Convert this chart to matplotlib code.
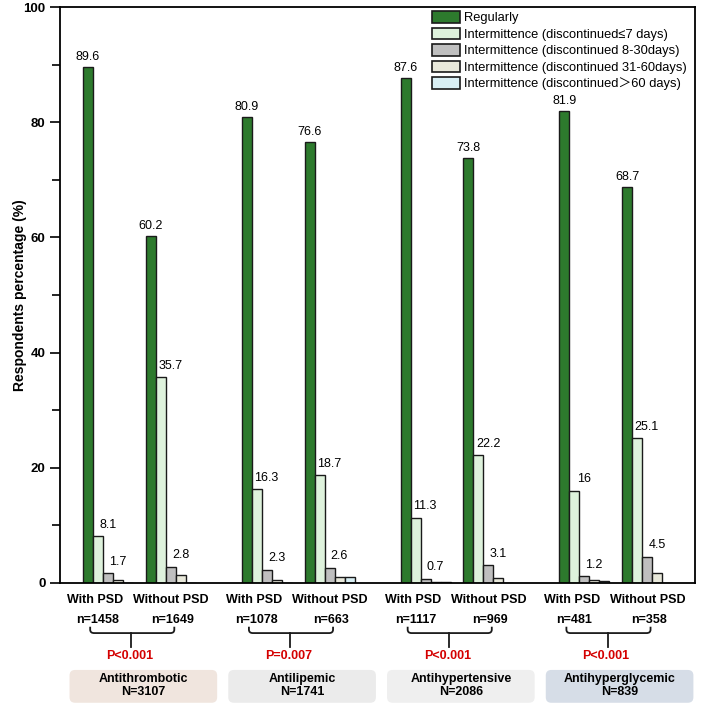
import numpy as np
import matplotlib.pyplot as plt
from matplotlib.path import Path
from matplotlib.patches import PathPatch, FancyBboxPatch

plt.rcParams['font.family'] = ['Liberation Sans', 'Noto Sans CJK SC', 'DejaVu Sans']

# drug classes and sample sizes
categories = ['Antithrombotic', 'Antilipemic', 'Antihypertensive', 'Antihyperglycemic']
totals = [3107, 1741, 2086, 839]
n_with = [1458, 1078, 1117, 481]
n_without = [1649, 663, 969, 358]
p_labels = ['P<0.001', 'P=0.007', 'P<0.001', 'P<0.001']
sub_labels = ['With PSD', 'Without PSD']

# percentages, order: (cat1 with, cat1 without, cat2 with, ...)
regularly = [89.6, 60.2, 80.9, 76.6, 87.6, 73.8, 81.9, 68.7]
disc_le7 = [8.1, 35.7, 16.3, 18.7, 11.3, 22.2, 16.0, 25.1]
disc_8_30 = [1.7, 2.8, 2.3, 2.6, 0.7, 3.1, 1.2, 4.5]
disc_31_60 = [0.6, 1.3, 0.5, 1.1, 0.2, 0.9, 0.6, 1.7]
disc_gt60 = [0.0, 0.0, 0.0, 1.0, 0.2, 0.0, 0.3, 0.0]

series = [regularly, disc_le7, disc_8_30, disc_31_60, disc_gt60]
series_names = ['Regularly',
                'Intermittence (discontinued\u22647 days)',
                'Intermittence (discontinued 8-30days)',
                'Intermittence (discontinued 31-60days)',
                'Intermittence (discontinued\uff1e60 days)']
colors = ['#2d7a2d', '#def2dc', '#bfbfbf', '#e8e8da', '#d9eff4']
box_colors = ['#f0e5de', '#ebebeb', '#efefef', '#d6dde7']

fig = plt.figure(figsize=(7.06, 7.08), dpi=100)
ax = fig.add_axes([0.085, 0.1766, 0.8994, 0.8135])

gx = np.arange(len(categories))
bw = 0.063
sub_left = np.ravel(np.column_stack([gx - 0.355, gx + 0.041]))

for k, (vals, col, name) in enumerate(zip(series, colors, series_names)):
    xs = sub_left + k * bw
    ax.bar(xs, vals, width=bw, align='edge', color=col, edgecolor='#1a1a1a',
           linewidth=1.0, label=name)
    # values printed for the first three series only
    if k < 3:
        dx = 0 if k == 0 else 7
        dy = 3 if k == 0 else 4
        for x, v in zip(xs, vals):
            ax.annotate(f'{v:g}', (x + bw / 2, v), xytext=(dx, dy),
                        textcoords='offset points', ha='center', va='bottom',
                        fontsize=9)

ax.set_xlim(-0.5, 3.5)
ax.set_ylim(0, 100)
ax.set_yticks(np.arange(0, 101, 20))
ax.set_yticks(np.arange(10, 100, 20), minor=True)
ax.tick_params(axis='y', which='major', direction='out', length=7, width=1.2,
               labelsize=9.5)
ax.tick_params(axis='y', which='minor', direction='out', length=6, width=1.2)
for lab in ax.get_yticklabels():
    lab.set_fontweight('bold')
ax.set_ylabel('Respondents percentage (%)', fontsize=10, fontweight='bold')
ax.yaxis.set_label_coords(-0.052, 0.5)

tick_pos = np.ravel(np.column_stack([gx - 0.277, gx + 0.20]))
ax.set_xticks(tick_pos)
ax.set_xticklabels(sub_labels * len(categories), fontsize=9, fontweight='bold')
ax.tick_params(axis='x', length=0, pad=8)

for sp in ax.spines.values():
    sp.set_linewidth(1.3)

# n labels, brackets, p values, category boxes below the axis
for i, g in enumerate(gx):
    ax.text(g - 0.261, -6.4, f'n={n_with[i]}', ha='center', va='center',
            fontsize=9, fontweight='bold', clip_on=False)
    ax.text(g + 0.208, -6.4, f'n={n_without[i]}', ha='center', va='center',
            fontsize=9, fontweight='bold', clip_on=False)

    x0, x1, xm = g - 0.31, g + 0.22, g - 0.05
    ytop, yh, rx, ry = -7.6, -8.7, 0.025, 0.6
    verts = [(x0, ytop), (x0, yh + ry), (x0, yh), (x0 + rx, yh),
             (x1 - rx, yh), (x1, yh), (x1, yh + ry), (x1, ytop)]
    codes = [Path.MOVETO, Path.LINETO, Path.CURVE3, Path.CURVE3,
             Path.LINETO, Path.CURVE3, Path.CURVE3, Path.LINETO]
    ax.add_patch(PathPatch(Path(verts, codes), fill=False, lw=1.3,
                           edgecolor='#1a1a1a', clip_on=False))
    ax.plot([xm, xm], [yh, -11.1], color='#1a1a1a', lw=1.3, clip_on=False)

    ax.text(g - 0.06, -12.7, p_labels[i], ha='center', va='center',
            fontsize=9, fontweight='bold', color='#d40000', clip_on=False)

    bx = g + 0.025
    ax.add_patch(FancyBboxPatch((bx - 0.465, -20.8), 0.93, 5.7,
                                boxstyle='round,pad=0,rounding_size=0.035',
                                mutation_aspect=27.6, facecolor=box_colors[i],
                                edgecolor='none', clip_on=False))
    ax.text(bx, -17.8, f'{categories[i]}\nN={totals[i]}', ha='center',
            va='center', fontsize=9, fontweight='bold', linespacing=1.1,
            clip_on=False)

leg = ax.legend(loc='upper left', bbox_to_anchor=(432 / 706, 1 - 11 / 708),
                bbox_transform=fig.transFigure, frameon=False, fontsize=9.3,
                handlelength=2.2, handleheight=1.0, labelspacing=0.26,
                handletextpad=0.3, borderpad=0, borderaxespad=0)
for h in leg.legend_handles:
    h.set_linewidth(1.2)

fig.savefig('out.png', dpi=100)
